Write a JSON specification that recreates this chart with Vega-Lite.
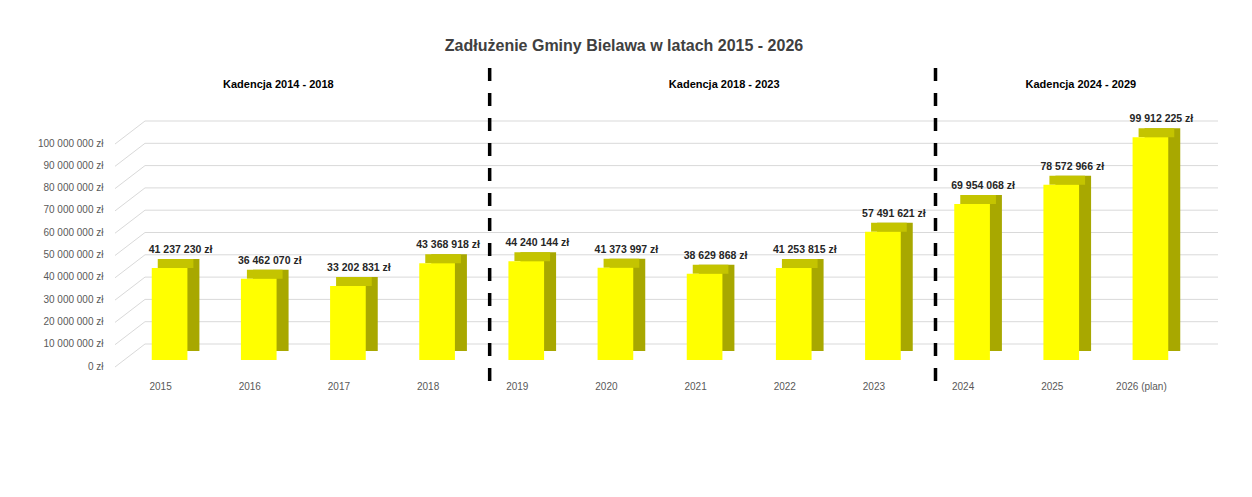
{
  "$schema": "https://vega.github.io/schema/vega-lite/v6.json",
  "width": 1070,
  "height": 223,
  "autosize": "none",
  "padding": {"left": 125, "top": 137, "right": 57, "bottom": 137},
  "background": "white",
  "title": {
    "text": "Zadłużenie Gminy Bielawa w latach 2015 - 2026",
    "font": "Liberation Sans",
    "fontSize": 16,
    "fontWeight": "bold",
    "color": "#404040",
    "anchor": "middle",
    "dx": -36,
    "offset": 12
  },
  "config": {
    "locale": {"number": {"decimal": ",", "thousands": " ", "grouping": [3], "currency": ["", " zł"]}},
    "view": {"stroke": null},
    "font": "Liberation Sans"
  },
  "datasets": {
    "debt": [
      {"rok": "2015", "kwota": 41237230},
      {"rok": "2016", "kwota": 36462070},
      {"rok": "2017", "kwota": 33202831},
      {"rok": "2018", "kwota": 43368918},
      {"rok": "2019", "kwota": 44240144},
      {"rok": "2020", "kwota": 41373997},
      {"rok": "2021", "kwota": 38629868},
      {"rok": "2022", "kwota": 41253815},
      {"rok": "2023", "kwota": 57491621},
      {"rok": "2024", "kwota": 69954068},
      {"rok": "2025", "kwota": 78572966},
      {"rok": "2026 (plan)", "kwota": 99912225}
    ],
    "ticks": [
      {"v": 0}, {"v": 10000000}, {"v": 20000000}, {"v": 30000000}, {"v": 40000000},
      {"v": 50000000}, {"v": 60000000}, {"v": 70000000}, {"v": 80000000}, {"v": 90000000}, {"v": 100000000}
    ],
    "terms": [
      {"kadencja": "Kadencja 2014 - 2018", "anchor": "2016"},
      {"kadencja": "Kadencja 2018 - 2023", "anchor": "2021"},
      {"kadencja": "Kadencja 2024 - 2029", "anchor": "2025"}
    ],
    "breaks": [{"at": "2019"}, {"at": "2024"}]
  },
  "layer": [
    {
      "data": {"name": "debt"},
      "mark": {"type": "bar", "color": "#A8A800", "opacity": 0, "width": {"band": 0.4}},
      "encoding": {
        "x": {
          "field": "rok",
          "type": "nominal",
          "sort": null,
          "scale": {
            "domain": ["2015", "2016", "2017", "2018", "2019", "2020", "2021", "2022", "2023", "2024", "2025", "2026 (plan)"],
            "paddingInner": 0,
            "paddingOuter": 0
          },
          "axis": {
            "title": null,
            "ticks": false,
            "domain": false,
            "labelAngle": 0,
            "labelAlign": "center",
            "labelFontSize": 10,
            "labelColor": "#595959",
            "labelPadding": 21,
            "labelOffset": -9
          }
        },
        "y": {
          "field": "kwota",
          "type": "quantitative",
          "scale": {"domain": [0, 100000000], "nice": false},
          "axis": {
            "title": null,
            "ticks": false,
            "domain": false,
            "grid": false,
            "labelOverlap": false,
            "tickCount": 11,
            "values": [0, 10000000, 20000000, 30000000, 40000000, 50000000, 60000000, 70000000, 80000000, 90000000, 100000000],
            "format": "$,d",
            "labelFontSize": 10,
            "labelColor": "#595959",
            "labelPadding": 22,
            "labelOffset": 6
          }
        }
      }
    },
    {
      "data": {"name": "ticks"},
      "mark": {"type": "rule", "color": "#D9D9D9", "strokeWidth": 1, "xOffset": 20, "x2Offset": 23, "yOffset": -16},
      "encoding": {
        "x": {"datum": "2015", "bandPosition": 0},
        "x2": {"datum": "2026 (plan)", "bandPosition": 1},
        "y": {"field": "v", "type": "quantitative", "axis": {"tickCount": 11, "values": [0, 10000000, 20000000, 30000000, 40000000, 50000000, 60000000, 70000000, 80000000, 90000000, 100000000], "labelOverlap": false}}
      }
    },
    {
      "data": {"name": "ticks"},
      "mark": {"type": "rule", "color": "#D9D9D9", "strokeWidth": 1, "xOffset": -10, "x2Offset": 20, "yOffset": 7, "y2Offset": -16},
      "encoding": {
        "x": {"datum": "2015", "bandPosition": 0},
        "x2": {"datum": "2015", "bandPosition": 0},
        "y": {"field": "v", "type": "quantitative"},
        "y2": {"field": "v"}
      }
    },
    {
      "data": {"name": "debt"},
      "mark": {"type": "bar", "color": "#A8A800", "width": {"band": 0.4}, "xOffset": 12, "yOffset": -9, "y2Offset": -9},
      "encoding": {
        "x": {"field": "rok", "type": "nominal", "sort": null},
        "y": {"field": "kwota", "type": "quantitative"}
      }
    },
    {
      "data": {"name": "debt"},
      "mark": {"type": "bar", "color": "#C4C400", "width": {"band": 0.4}, "xOffset": 6, "yOffset": -9, "y2Offset": 0},
      "encoding": {
        "x": {"field": "rok", "type": "nominal", "sort": null},
        "y": {"field": "kwota", "type": "quantitative"},
        "y2": {"field": "kwota"}
      }
    },
    {
      "data": {"name": "debt"},
      "mark": {"type": "bar", "color": "#FFFF00", "width": {"band": 0.4}},
      "encoding": {
        "x": {"field": "rok", "type": "nominal", "sort": null},
        "y": {"field": "kwota", "type": "quantitative"}
      }
    },
    {
      "data": {"name": "debt"},
      "mark": {"type": "text", "font": "Liberation Sans", "fontSize": 10.5, "fontWeight": "bold", "color": "#262626", "baseline": "middle", "align": "center", "xOffset": 11, "yOffset": -18},
      "encoding": {
        "x": {"field": "rok", "type": "nominal", "sort": null},
        "y": {"field": "kwota", "type": "quantitative"},
        "text": {"field": "kwota", "type": "quantitative", "format": "$,d"}
      }
    },
    {
      "data": {"name": "breaks"},
      "mark": {"type": "rule", "color": "#000000", "strokeWidth": 3.5, "strokeDash": [13, 12], "xOffset": 8, "x2Offset": 8},
      "encoding": {
        "x": {"field": "at", "type": "nominal", "bandPosition": 0},
        "y": {"datum": 130940000},
        "y2": {"datum": -12560000}
      }
    },
    {
      "data": {"name": "terms"},
      "mark": {"type": "text", "font": "Liberation Sans", "fontSize": 11, "fontWeight": "bold", "color": "#000000", "baseline": "middle", "align": "center"},
      "encoding": {
        "x": {"field": "anchor", "type": "nominal", "bandPosition": 0.72},
        "y": {"datum": 123300000},
        "text": {"field": "kadencja"}
      }
    }
  ]
}
